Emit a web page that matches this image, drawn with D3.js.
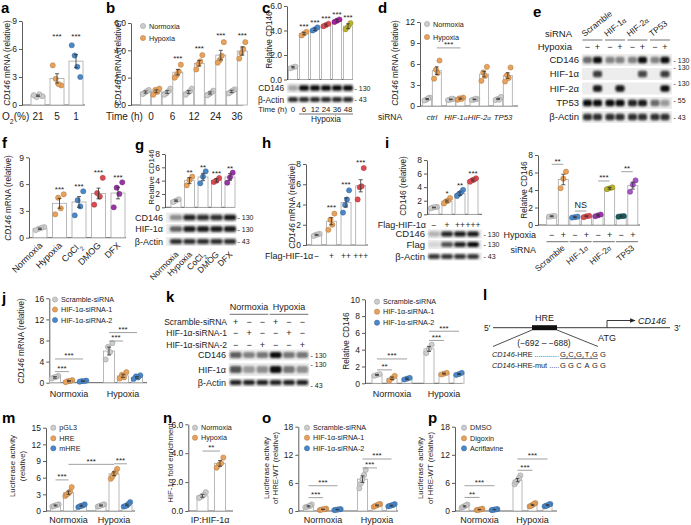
<!DOCTYPE html>
<html><head><meta charset="utf-8">
<script src="https://cdn.jsdelivr.net/npm/d3@7"></script>
<style>body{margin:0;background:#fff}</style>
</head><body>
<svg id="fig" width="691" height="525"></svg>
<script>
// ================= DATA =================
// a
const aCats = ["21","5","1"];
const aMean = [1.0,2.85,4.7];
const aSem  = [0.07,0.5,0.7];
const aPts  = [[0.85,1.05,0.95,1.15],[2.8,4.25,2.1,2.25],[5.3,6.4,3.0,4.1]];
const aSig  = ["","***","***"];
// b
const bTimes = ["0","6","12","24","36"];
const bConds = ["Normoxia","Hypoxia"];
const bMean = [[0.95,1.0],[0.95,2.4],[0.95,3.05],[0.88,3.65],[1.0,3.95]];
const bSem  = [[0.08,0.1],[0.1,0.2],[0.1,0.2],[0.08,0.35],[0.08,0.3]];
const bPts  = [[[0.9,0.8,1.1,1.0],[1.1,0.75,1.2,0.95]],
               [[0.85,0.75,1.2,1.0],[2.2,2.0,2.95,2.45]],
               [[0.9,0.75,1.2,1.0],[3.0,2.6,3.65,3.2]],
               [[0.8,0.7,1.05,0.9],[3.3,3.1,4.6,3.6]],
               [[0.95,0.85,1.15,1.05],[3.8,3.4,4.6,4.1]]];
const bSig  = ["","***","***","***","***"];
// c
const cTimes = ["0","6","12","24","36","48"];
const cMean = [1.0,3.75,4.1,4.45,4.8,4.35];
const cSem  = [0.05,0.1,0.1,0.08,0.1,0.2];
const cPts  = [[1.0,0.92,1.05],[3.75,3.6,3.9],[4.1,4.0,4.25],[4.45,4.35,4.55],[4.8,4.7,4.9],[4.3,4.1,4.6]];
const cSig  = ["","***","***","***","***","***"];
const cBlotRows = ["CD146","β-Actin"];
const cBlotKDa  = ["130","43"];
const cBands = [[0.3,1,1,1,1,1],[0.9,0.9,0.9,0.9,0.9,0.9]];
// d
const dCats = ["ctrl","HIF-1α","HIF-2α","TP53"];
const dMean = [[1.0,5.05],[0.95,1.05],[0.95,4.55],[1.0,4.35]];
const dSem  = [[0.08,0.55],[0.05,0.08],[0.05,0.4],[0.08,0.4]];
const dPts  = [[[0.9,0.8,1.2,1.1],[5.2,3.9,6.5,4.7]],
               [[0.9,0.85,1.0,1.05],[1.1,0.9,1.2,1.0]],
               [[0.9,0.85,1.0,1.05],[4.8,3.6,5.6,4.3]],
               [[1.0,0.85,1.3,0.9],[4.4,3.5,5.5,4.0]]];
// e
const eSi    = ["Scramble","HIF-1α","HIF-2α","TP53"];
const eHyp   = ["−","+","−","+","−","+","−","+"];
const eRows  = ["CD146","HIF-1α","HIF-2α","TP53","β-Actin"];
const eKDa   = ["130","130","130","55","43"];
const eBands = [[0.55,1,0.45,0.45,0.45,1,0.45,1],
                [0,0.8,0,0,0,0.75,0,0.8],
                [0,0.95,0,0.95,0,0,0,1],
                [1,1,1,1,0.9,0.95,0.55,0.35],
                [0.85,0.85,0.85,0.85,0.85,0.85,0.85,0.85]];
// f
const fCats = ["Normoxia","Hypoxia","CoCl2","DMOG","DFX"];
const fMean = [1.0,3.85,4.0,4.95,5.0];
const fSem  = [0.08,0.55,0.6,0.6,0.65];
const fPts  = [[1.0,0.85,1.2,1.1],[4.48,2.62,4.86,3.29],[4.2,2.5,5.2,3.5],[5.0,3.7,6.7,4.6],[5.6,3.4,6.2,4.9]];
const fSig  = ["","***","***","***","***"];
// g
const gCats = ["Normoxia","Hypoxia","CoCl2","DMOG","DFX"];
const gMean = [1.0,4.0,4.55,4.05,4.55];
const gSem  = [0.1,0.45,0.55,0.25,0.5];
const gPts  = [[1.0,0.8,1.2],[4.1,3.3,4.6],[4.6,3.6,5.4],[4.0,3.8,4.4],[4.5,3.7,5.2]];
const gSig  = ["","**","**","***","**"];
const gBlotRows = ["CD146","HIF-1α","β-Actin"];
const gBlotKDa  = ["130","130","43"];
const gBands = [[0.4,0.9,0.85,0.85,0.95],[0.6,0.95,0.95,0.95,0.95],[0.85,0.85,0.85,0.85,0.85]];
// h
const hCats = ["−","+","++","+++"];
const hMean = [1.0,2.35,4.2,5.85];
const hSem  = [0.05,0.35,0.45,0.6];
const hPts  = [[1.0,0.9,1.1,1.05],[2.5,1.5,3.1,2.0],[3.95,3.2,5.4,4.5],[5.7,4.5,7.6,5.8]];
const hSig  = ["","***","***","***"];
// i (left)
const iCats = ["−","+","++","+++"];
const iMean = [1.0,1.95,3.05,5.05];
const iSem  = [0.05,0.15,0.25,0.15];
const iPts  = [[1.0,0.9,1.1,1.05],[1.9,1.6,2.4,2.0],[3.0,2.7,3.6,3.2],[5.0,4.8,5.3,5.1]];
const iSig  = ["","*","**","***"];
const iBlotRows = ["CD146","Flag","β-Actin"];
const iBlotKDa  = ["130","130","43"];
const iBands = [[0.25,0.9,0.95,0.95],[0.1,0.7,0.9,1.0],[0.85,0.85,0.85,0.85]];
// i (right)
const iSi   = ["Scramble","HIF-1α","HIF-2α","TP53"];
const iHyp  = ["−","+"];
const iRMean = [[1.0,5.2],[0.9,1.0],[1.1,4.2],[1.0,4.5]];
const iRSem  = [[0.05,0.6],[0.05,0.05],[0.08,0.1],[0.03,0.4]];
const iRPts  = [[[1.0,0.95,1.05],[5.3,4.2,6.1]],[[0.9,0.85,0.95],[1.0,0.9,1.05]],
                [[1.1,1.0,1.2],[4.2,4.1,4.3]],[[1.0,0.95,1.02],[4.6,3.8,5.1]]];
const iRSig  = ["**","NS","***","**"];
// j
const jGroups = ["Normoxia","Hypoxia"];
const jSeries = ["Scramble-siRNA","HIF-1α-siRNA-1","HIF-1α-siRNA-2"];
const jMean = [[1.0,0.3,0.3],[6.0,1.3,1.0]];
const jSem  = [[0.15,0.1,0.05],[0.75,0.3,0.15]];
const jPts  = [[[1.0,0.8,1.3,1.1],[0.3,0.1,0.5,0.3],[0.3,0.2,0.4,0.3]],
               [[6.8,4.4,7.5,5.8],[1.5,0.8,2.0,1.0],[1.2,0.7,1.4,1.0]]];
// k
const kLaneCond = ["Normoxia","Normoxia","Normoxia","Hypoxia","Hypoxia","Hypoxia"];
const kSiRows = ["Scramble-siRNA","HIF-1α-siRNA-1","HIF-1α-siRNA-2"];
const kSigns  = [["+","−","−","+","−","−"],["−","+","−","−","+","−"],["−","−","+","−","−","+"]];
const kBlotRows = ["CD146","HIF-1α","β-Actin"];
const kBlotKDa  = ["130","130","43"];
const kBands = [[0.65,0.45,0.5,1.0,0.5,0.5],[0.7,0.35,0.4,1.0,0.5,0.4],[0.9,0.9,0.9,0.9,0.9,0.9]];
const kMean = [[1.0,0.6,0.55],[4.1,1.15,1.1]];
const kSem  = [[0.05,0.15,0.08],[0.3,0.05,0.05]];
const kPts  = [[[1.0,0.9,1.1],[0.6,0.3,0.9],[0.55,0.45,0.65]],[[4.1,3.6,4.6],[1.15,1.05,1.25],[1.1,1.0,1.25]]];
// l
const lSeqWT  = ["G","C","G","T","G","G"];
const lSeqMut = ["G","G","C","A","G","G"];
const lRange  = "(−692 – −688)";
// m
const mGroups = ["Normoxia","Hypoxia"];
const mSeries = ["pGL3","HRE","mHRE"];
const mMean = [[1.0,3.3,0.95],[1.0,6.7,1.1]];
const mSem  = [[0.1,0.3,0.1],[0.1,0.35,0.15]];
const mPts  = [[[1.0,0.8,1.2,0.9,1.1],[3.2,2.7,4.3,3.0,3.5],[0.95,0.7,1.2,0.85,1.0]],
               [[1.0,0.8,1.2,0.9,1.1],[6.7,5.8,7.6,6.2,7.0],[1.0,0.8,1.6,0.9,1.3]]];
// n
const nCats = ["Normoxia","Hypoxia"];
const nMean = [1.05,3.3];
const nSem  = [0.1,0.2];
const nPts  = [[1.0,0.9,1.3,1.1],[3.2,3.0,3.7,3.3]];
// o
const oGroups = ["Normoxia","Hypoxia"];
const oSeries = ["Scramble-siRNA","HIF-1α-siRNA-1","HIF-1α-siRNA-2"];
const oMean = [[1.0,0.35,0.3],[6.8,1.2,1.15]];
const oSem  = [[0.12,0.05,0.04],[0.7,0.1,0.1]];
const oPts  = [[[1.0,0.8,1.4,0.9,1.1],[0.35,0.2,0.5,0.3,0.4],[0.3,0.2,0.4,0.25,0.35]],
               [[6.8,4.85,8.76,5.9,7.7],[1.2,0.9,1.5,1.1,1.4],[1.2,1.0,1.5,1.1,1.3]]];
// p
const pGroups = ["Normoxia","Hypoxia"];
const pSeries = ["DMSO","Digoxin","Acriflavine"];
const pMean = [[1.0,0.3,0.3],[6.6,1.3,1.25]];
const pSem  = [[0.12,0.05,0.04],[0.35,0.12,0.1]];
const pPts  = [[[1.0,0.7,1.4,0.9,1.2],[0.3,0.2,0.5,0.25,0.35],[0.3,0.2,0.4,0.25,0.35]],
               [[6.5,5.7,7.6,6.2,7.0],[1.3,1.0,1.7,1.1,1.5],[1.2,1.0,1.5,1.1,1.4]]];

// ================= STYLE =================
const FONT = '"Liberation Sans", Arial, Helvetica, sans-serif';
const C = {gray:'#cdcdcd', orange:'#e9a25b', blue:'#4b88c9', red:'#dc4b50', magenta:'#a3239f',
           olive:'#bab42d', purple:'#9a35a8', teal:'#1d5c5e', lilac:'#a655c6'};
const TXT = '#222';
const PR = 2.6;

// ================= HELPERS =================
const svg = d3.select('#fig').attr('font-family', FONT);
const defs = svg.append('defs');
defs.append('filter').attr('id','blur').attr('x','-40%').attr('y','-100%').attr('width','180%').attr('height','300%')
  .append('feGaussianBlur').attr('stdDeviation',0.9);
defs.append('marker').attr('id','arrow').attr('viewBox','0 0 10 10').attr('refX',9).attr('refY',5)
  .attr('markerWidth',6).attr('markerHeight',6).attr('orient','auto')
  .append('path').attr('d','M0,1 L10,5 L0,9 Z').attr('fill','#222');

function T(g,x,y,s,o={}){
  const t=g.append('text').attr('x',x).attr('y',y).attr('font-size',o.fs||9)
    .attr('text-anchor',o.anchor||'start').attr('fill',o.fill||TXT);
  if(o.bold) t.attr('font-weight','bold');
  if(o.italic) t.attr('font-style','italic');
  if(o.rot!=null) t.attr('transform',`rotate(${o.rot},${x},${y})`);
  t.text(s); return t;
}
function R(g,x,y,parts,o={}){
  const fs=o.fs||9;
  const t=g.append('text').attr('x',x).attr('y',y).attr('font-size',fs)
    .attr('text-anchor',o.anchor||'start').attr('fill',TXT);
  if(o.italic) t.attr('font-style','italic');
  if(o.rot!=null) t.attr('transform',`rotate(${o.rot},${x},${y})`);
  parts.forEach(p=>{
    const [s,st]=Array.isArray(p)?p:[p,''];
    const ts=t.append('tspan').text(s);
    if(st.includes('i')) ts.attr('font-style','italic');
    if(st.includes('sub')) ts.attr('baseline-shift','sub').attr('font-size',fs*0.7);
    if(st.includes('sm')) ts.attr('font-size',fs*0.8);
  });
  return t;
}
function sub2(s){ return s.endsWith('2') && s.startsWith('CoCl') ? ['CoCl',['2','sub']] : [s]; }
function smallAlpha(s){ return s.endsWith('α') ? [s.slice(0,-1),['α','sm']] : [s]; }
function letter(s,x,y){ T(svg,x,y,s,{fs:15,bold:true,fill:'#000'}); }
function yAxis(g,y,ticks,x0,x1,fs=8.5){
  const ax=g.append('g').attr('transform',`translate(${x0},0)`)
    .call(d3.axisLeft(y).tickValues(ticks).tickSize(3).tickSizeOuter(0).tickPadding(2));
  ax.attr('font-family',FONT);
  ax.selectAll('text').attr('font-size',fs).attr('fill',TXT);
  ax.selectAll('line,path').attr('stroke','#333').attr('stroke-width',0.8);
  g.append('line').attr('x1',x0).attr('x2',x1).attr('y1',y(0)).attr('y2',y(0))
    .attr('stroke','#333').attr('stroke-width',0.8);
}
function yTitle(g,x,cy,parts,fs=8.2){ R(g,x,cy,parts,{fs,anchor:'middle',rot:-90}); }
const JIT={1:[0],2:[-0.5,0.5],3:[0,-0.85,0.85],4:[-0.3,-0.95,0.95,0.3],5:[0,-1,1,-0.5,0.5]};
function drawBars(g,y,items,bw){
  items.forEach(d=>{
    g.append('rect').attr('x',d.x-bw/2).attr('y',y(d.mean)).attr('width',bw).attr('height',y(0)-y(d.mean))
      .attr('fill','#fff').attr('stroke','#a8a8a8').attr('stroke-width',0.8);
  });
  items.forEach(d=>{
    const n=d.pts.length, sp=bw*0.32;
    d.pts.forEach((v,i)=>{
      g.append('circle').attr('cx',d.x+JIT[n][i]*sp).attr('cy',y(v)).attr('r',PR)
        .attr('fill',d.color).attr('stroke',d3.color(d.color).darker(0.9)).attr('stroke-width',0.5);
    });
  });
  items.forEach(d=>{
    if(!d.sem) return;
    const cw=Math.min(4,bw*0.4);
    const l=(x1,x2,y1,y2)=>g.append('line').attr('x1',x1).attr('x2',x2).attr('y1',y1).attr('y2',y2)
      .attr('stroke','#333').attr('stroke-width',0.8);
    l(d.x,d.x,y(d.mean-d.sem),y(d.mean+d.sem));
    l(d.x-cw/2,d.x+cw/2,y(d.mean+d.sem),y(d.mean+d.sem));
    l(d.x-cw/2,d.x+cw/2,y(d.mean-d.sem),y(d.mean-d.sem));
  });
}
function stars(g,x,cy,s,fs=8){
  g.append('text').attr('x',x).attr('y',cy+fs*0.6).attr('font-size',fs).attr('text-anchor','middle')
    .attr('fill',TXT).text(s);
}
function topOf(d){ return Math.max(d.mean+(d.sem||0), ...d.pts); }
function bracket(g,x1,x2,ly,s){
  g.append('line').attr('x1',x1).attr('x2',x2).attr('y1',ly).attr('y2',ly).attr('stroke','#777').attr('stroke-width',0.7);
  if(s==='NS') T(g,(x1+x2)/2,ly-3,s,{fs:9,anchor:'middle'});
  else stars(g,(x1+x2)/2,ly-5.5,s);
}
function legend(g,x,ys,labels,colors,fs=7.2){
  labels.forEach((s,i)=>{
    g.append('circle').attr('cx',x).attr('cy',ys[i]).attr('r',PR).attr('fill',colors[i])
      .attr('stroke',d3.color(colors[i]).darker(0.9)).attr('stroke-width',0.5);
    T(g,x+6,ys[i]+2.6,s,{fs});
  });
}
function blot(g,xs,lw,x0,x1,rows,fs=9){
  rows.forEach(r=>{
    g.append('rect').attr('x',x0).attr('y',r.cy-r.h/2).attr('width',x1-x0).attr('height',r.h).attr('fill','#ededed');
    r.vals.forEach((v,i)=>{
      if(v<=0) return;
      g.append('rect').attr('x',xs[i]-lw*0.45).attr('y',r.cy-r.h*0.27).attr('width',lw*0.9).attr('height',r.h*0.54)
        .attr('rx',2).attr('fill','#0a0a0a').attr('fill-opacity',v).attr('filter','url(#blur)');
    });
    T(g,x0-3,r.cy+3.2,r.label,{fs,anchor:'end'});
    if(r.kda) T(g,x1+1.5,r.cy+2.6+(r.kdy||0),'- '+r.kda,{fs:7});
  });
}

// ================= PANEL a =================
{
  const g=svg.append('g');
  const y=d3.scaleLinear().domain([0,9]).range([105,21]);
  const x=d3.scalePoint().domain(aCats).range([38,76]);
  const col=[C.gray,C.orange,C.blue];
  yAxis(g,y,[0,3,6,9],22,85);
  drawBars(g,y,aCats.map((c,i)=>({x:x(c),mean:aMean[i],sem:aSem[i],pts:aPts[i],color:col[i]})),14);
  aCats.forEach(c=>T(g,x(c),119.5,c,{fs:10,anchor:'middle'}));
  R(g,2,119.5,['O',['2','sub'],'(%)'],{fs:10});
  aSig.forEach((s,i)=>{ if(s) stars(g,x(aCats[i]),y(7.6),s); });
  yTitle(g,10,63,[['CD146','i'],' mRNA (relative)']);
  letter('a',1,13);
}
// ================= PANEL b =================
{
  const g=svg.append('g');
  const y=d3.scaleLinear().domain([0,6]).range([105,23]);
  const x=d3.scalePoint().domain(bTimes).range([151,237]);
  const o=d3.scalePoint().domain(bConds).range([-5.3,5.3]);
  const col=[C.gray,C.orange];
  yAxis(g,y,[0,2,4,6],131,243);
  const items=[];
  bTimes.forEach((t,i)=>bConds.forEach((c,j)=>items.push({x:x(t)+o(c),mean:bMean[i][j],sem:bSem[i][j],pts:bPts[i][j],color:col[j]})));
  drawBars(g,y,items,10);
  bTimes.forEach((t,i)=>{ T(g,x(t),119.5,t,{fs:10,anchor:'middle'});
    if(bSig[i]) stars(g,x(t)+o('Hypoxia'),y(topOf(items[i*2+1]))-8.5,bSig[i]); });
  T(g,106,119.5,'Time (h)',{fs:10});
  legend(g,143,[26,38],bConds,col);
  yTitle(g,121,63,[['CD146','i'],' mRNA (relative)']);
  letter('b',106,13);
}
// ================= PANEL c =================
{
  const g=svg.append('g');
  const y=d3.scaleLinear().domain([0,6]).range([79.5,6]);
  const x=d3.scalePoint().domain(cTimes).range([293,348]);
  const col=[C.gray,C.orange,C.blue,C.red,C.magenta,C.olive];
  yAxis(g,y,[0,2,4,6],287,353);
  const items=cTimes.map((t,i)=>({x:x(t),mean:cMean[i],sem:cSem[i],pts:cPts[i],color:col[i]}));
  drawBars(g,y,items,9);
  items.forEach((d,i)=>{ if(cSig[i]) stars(g,d.x,y(topOf(d))-7.5,cSig[i]); });
  yTitle(g,272,40,['Relative CD146']);
  blot(g,cTimes.map(t=>x(t)),11,287,353,cBlotRows.map((r,i)=>({label:r,cy:[88,99.5][i],h:[10,8][i],vals:cBands[i],kda:cBlotKDa[i]})),8.3);
  T(g,287,111.5,'Time (h)',{fs:7.8,anchor:'end'});
  cTimes.forEach(t=>T(g,x(t),111.5,t,{fs:7.8,anchor:'middle'}));
  g.append('line').attr('x1',x('6')-5).attr('x2',x('48')+5).attr('y1',114).attr('y2',114).attr('stroke','#333').attr('stroke-width',0.7);
  T(g,(x('6')+x('48'))/2,122,'Hypoxia',{fs:8.3,anchor:'middle'});
  letter('c',262,13);
}
// ================= PANEL d =================
{
  const g=svg.append('g');
  const y=d3.scaleLinear().domain([0,12]).range([106,22]);
  const x=d3.scalePoint().domain(dCats).range([432,503]);
  const o=d3.scalePoint().domain(bConds).range([-4.8,4.8]);
  const col=[C.gray,C.orange];
  yAxis(g,y,[0,3,6,9,12],420,518);
  const items=[];
  dCats.forEach((t,i)=>bConds.forEach((c,j)=>items.push({x:x(t)+o(c),mean:dMean[i][j],sem:dSem[i][j],pts:dPts[i][j],color:col[j]})));
  drawBars(g,y,items,9);
  dCats.forEach(t=>R(g,x(t),119.5,smallAlpha(t),{fs:7.8,anchor:'middle',italic:true}));
  T(g,378,119.5,'siRNA',{fs:8.5});
  legend(g,427,[24,37],bConds,col);
  bracket(g,x('ctrl')+o('Hypoxia'),x('HIF-1α')+o('Hypoxia'),y(8.3),'***');
  yTitle(g,398,63,[['CD146','i'],' mRNA (relative)']);
  letter('d',378,13);
}
// ================= PANEL e =================
{
  const g=svg.append('g');
  const gx=d3.scalePoint().domain(eSi).range([592.5,660]);
  const lanes=[]; eSi.forEach(s=>{ lanes.push(gx(s)-5); lanes.push(gx(s)+5); });
  const rowsY=[60,74,88.5,103,117];
  blot(g,lanes,10,582,672,eRows.map((r,i)=>({label:r,cy:rowsY[i],h:12,vals:eBands[i],kda:eKDa[i],kdy:[0,-7,-5,-3,0][i]})),9.5);
  eHyp.forEach((h,i)=>T(g,lanes[i],49.5,h,{fs:9,anchor:'middle'}));
  T(g,572,49.5,'Hypoxia',{fs:9.5,anchor:'end'});
  T(g,572,37,'siRNA',{fs:9.5,anchor:'end'});
  eSi.forEach(s=>{
    g.append('line').attr('x1',gx(s)-10).attr('x2',gx(s)+10).attr('y1',40).attr('y2',40).attr('stroke','#333').attr('stroke-width',0.7);
    R(g,gx(s)-8,37,smallAlpha(s),{fs:8.5,rot:-38});
  });
  letter('e',533,17);
}
// ================= PANEL f =================
{
  const g=svg.append('g');
  const y=d3.scaleLinear().domain([0,9]).range([237.7,157.3]);
  const x=d3.scalePoint().domain(fCats).range([40,118]);
  const col=[C.gray,C.orange,C.blue,C.red,C.purple];
  yAxis(g,y,[0,3,6,9],29,126);
  const items=fCats.map((t,i)=>({x:x(t),mean:fMean[i],sem:fSem[i],pts:fPts[i],color:col[i]}));
  drawBars(g,y,items,14);
  items.forEach((d,i)=>{ if(fSig[i]) stars(g,d.x,y(topOf(d))-7.5,fSig[i]); });
  fCats.forEach(t=>R(g,x(t)+3,246,sub2(t),{fs:9,anchor:'end',rot:-45}));
  yTitle(g,11,198,[['CD146','i'],' mRNA (relative)']);
  letter('f',2,148);
}
// ================= PANEL g =================
{
  const g=svg.append('g');
  const y=d3.scaleLinear().domain([0,8]).range([207.3,154]);
  const x=d3.scalePoint().domain(gCats).range([176,230]);
  const col=[C.gray,C.orange,C.blue,C.red,C.purple];
  yAxis(g,y,[0,2,4,6,8],165,235);
  const items=gCats.map((t,i)=>({x:x(t),mean:gMean[i],sem:gSem[i],pts:gPts[i],color:col[i]}));
  drawBars(g,y,items,10);
  items.forEach((d,i)=>{ if(gSig[i]) stars(g,d.x,y(topOf(d))-6.5,gSig[i]); });
  blot(g,gCats.map(t=>x(t)),13.5,166,236,gBlotRows.map((r,i)=>({label:r,cy:[217.5,229,241.5][i],h:[10,10,9][i],vals:gBands[i],kda:gBlotKDa[i]})),9);
  gCats.forEach(t=>R(g,x(t)+3,255,sub2(t),{fs:8.5,anchor:'end',rot:-45}));
  yTitle(g,154,177,['Relative CD146'],7.9);
  letter('g',135,150);
}
// ================= PANEL h =================
{
  const g=svg.append('g');
  const y=d3.scaleLinear().domain([0,8]).range([245,164]);
  const x=d3.scalePoint().domain(hCats).range([316.7,360.7]);
  const col=[C.gray,C.orange,C.blue,C.red];
  yAxis(g,y,[0,2,4,6,8],306,368);
  const items=hCats.map((t,i)=>({x:x(t),mean:hMean[i],sem:hSem[i],pts:hPts[i],color:col[i]}));
  drawBars(g,y,items,10);
  items.forEach((d,i)=>{ if(hSig[i]) stars(g,d.x,y(topOf(d))-8,hSig[i]); });
  hCats.forEach(t=>T(g,x(t),258.5,t,{fs:8.5,anchor:'middle'}));
  T(g,265,258.5,'Flag-HIF-1α',{fs:9});
  yTitle(g,295,206,[['CD146','i'],' mRNA (relative)']);
  letter('h',262,148);
}
// ================= PANEL i (left) =================
{
  const g=svg.append('g');
  const y=d3.scaleLinear().domain([0,8]).range([214.3,160]);
  const x=d3.scalePoint().domain(iCats).range([434,473]);
  const col=[C.gray,C.orange,C.blue,C.red];
  yAxis(g,y,[0,2,4,6,8],427,482);
  const items=iCats.map((t,i)=>({x:x(t),mean:iMean[i],sem:iSem[i],pts:iPts[i],color:col[i]}));
  drawBars(g,y,items,10);
  items.forEach((d,i)=>{ if(iSig[i]) stars(g,d.x,y(topOf(d))-7,iSig[i]); });
  iCats.forEach(t=>T(g,x(t),227.5,t,{fs:8.5,anchor:'middle'}));
  T(g,426,227.5,'Flag-HIF-1α',{fs:9,anchor:'end'});
  blot(g,iCats.map(t=>x(t)),13,428,482,iBlotRows.map((r,i)=>({label:r,cy:[234,244.5,256.5][i],h:[9,9,8][i],vals:iBands[i],kda:iBlotKDa[i]})),9.5);
  yTitle(g,406,186,['CD146 (relative)']);
  letter('i',385,148);
}
// ================= PANEL i (right) =================
{
  const g=svg.append('g');
  const y=d3.scaleLinear().domain([0,8]).range([225,155]);
  const gx=d3.scalePoint().domain(iSi).range([557.5,627]);
  const o=d3.scalePoint().domain(iHyp).range([-5.8,5.8]);
  const col=[[C.gray,C.orange],[C.blue,C.red],[C.purple,C.olive],[C.teal,C.lilac]];
  yAxis(g,y,[0,2,4,6,8],538,640);
  const items=[];
  iSi.forEach((s,i)=>iHyp.forEach((h,j)=>items.push({x:gx(s)+o(h),mean:iRMean[i][j],sem:iRSem[i][j],pts:iRPts[i][j],color:col[i][j]})));
  drawBars(g,y,items,10);
  const lvl=[6.94,1.6,5.03,6.09];
  iSi.forEach((s,i)=>{
    iHyp.forEach(h=>T(g,gx(s)+o(h),237.5,h,{fs:9,anchor:'middle'}));
    g.append('line').attr('x1',gx(s)-11).attr('x2',gx(s)+11).attr('y1',241.7).attr('y2',241.7).attr('stroke','#333').attr('stroke-width',0.7);
    R(g,gx(s)+8,249,smallAlpha(s),{fs:8.5,anchor:'end',rot:-40});
    bracket(g,gx(s)+o('−'),gx(s)+o('+'),y(lvl[i]),iRSig[i]);
  });
  T(g,536,237.5,'Hypoxia',{fs:9,anchor:'end'});
  T(g,536,253,'siRNA',{fs:9,anchor:'end'});
  yTitle(g,527,190,['Relative CD146']);
}
// ================= PANEL j =================
{
  const g=svg.append('g');
  const y=d3.scaleLinear().domain([0,16]).range([382.7,298.3]);
  const gx=d3.scalePoint().domain(jGroups).range([69,123]);
  const o=d3.scalePoint().domain(jSeries).range([-14,14]);
  const col=[C.gray,C.orange,C.blue];
  yAxis(g,y,[0,4,8,12,16],49.3,147);
  const items=[];
  jGroups.forEach((gr,i)=>jSeries.forEach((s,j)=>items.push({x:gx(gr)+o(s),mean:jMean[i][j],sem:jSem[i][j],pts:jPts[i][j],color:col[j]})));
  drawBars(g,y,items,11);
  jGroups.forEach(gr=>T(g,gx(gr),397,gr,{fs:9,anchor:'middle'}));
  legend(g,55,[299.5,309.5,320],jSeries,col);
  const s0=jSeries[0];
  bracket(g,gx('Normoxia')+o(s0),gx('Normoxia')+o(jSeries[1]),y(2.1),'***');
  bracket(g,gx('Normoxia')+o(s0),gx('Normoxia')+o(jSeries[2]),y(4.5),'***');
  bracket(g,gx('Hypoxia')+o(s0),gx('Hypoxia')+o(jSeries[1]),y(7.9),'***');
  bracket(g,gx('Hypoxia')+o(s0),gx('Hypoxia')+o(jSeries[2]),y(9.5),'***');
  yTitle(g,23.5,341,[['CD146','i'],' mRNA (relative)']);
  letter('j',2,303);
}
// ================= PANEL k =================
{
  const g=svg.append('g');
  const lx=d3.scalePoint().domain(d3.range(6)).range([235.7,302.3]);
  const lanes=d3.range(6).map(i=>lx(i));
  ["Normoxia","Hypoxia"].forEach(cnd=>{
    const idx=kLaneCond.map((c,i)=>c===cnd?i:-1).filter(i=>i>=0);
    const a=lanes[idx[0]]-6, b=lanes[idx[idx.length-1]]+6;
    T(g,(a+b)/2,310,cnd,{fs:9,anchor:'middle'});
    g.append('line').attr('x1',a).attr('x2',b).attr('y1',314.3).attr('y2',314.3).attr('stroke','#333').attr('stroke-width',0.7);
  });
  kSiRows.forEach((r,i)=>{
    const yy=[324.5,336,347.5][i];
    T(g,227,yy,r,{fs:8.5,anchor:'end'});
    kSigns[i].forEach((s,j)=>T(g,lanes[j],yy,s,{fs:9,anchor:'middle'}));
  });
  blot(g,lanes,13,229,309,kBlotRows.map((r,i)=>({label:r,cy:[355,369.5,382.5][i],h:[11,13,9][i],vals:kBands[i],kda:kBlotKDa[i],kdy:[0,-5.5,3][i]})),9);
  letter('k',166,302);
}
// ================= PANEL k (right) =================
{
  const g=svg.append('g');
  const y=d3.scaleLinear().domain([0,10]).range([383.3,299.3]);
  const gx=d3.scalePoint().domain(jGroups).range([392,444]);
  const o=d3.scalePoint().domain(jSeries).range([-15,15]);
  const col=[C.gray,C.orange,C.blue];
  yAxis(g,y,[0,2,4,6,8,10],365,462);
  const items=[];
  jGroups.forEach((gr,i)=>jSeries.forEach((s,j)=>items.push({x:gx(gr)+o(s),mean:kMean[i][j],sem:kSem[i][j],pts:kPts[i][j],color:col[j]})));
  drawBars(g,y,items,10);
  jGroups.forEach(gr=>T(g,gx(gr),397,gr,{fs:9,anchor:'middle'}));
  legend(g,377,[301.7,311.7,322.7],jSeries,col);
  const s0=jSeries[0];
  bracket(g,gx('Normoxia')+o(s0),gx('Normoxia')+o(jSeries[1]),y(1.6),'**');
  bracket(g,gx('Normoxia')+o(s0),gx('Normoxia')+o(jSeries[2]),y(2.9),'***');
  bracket(g,gx('Hypoxia')+o(s0),gx('Hypoxia')+o(jSeries[1]),y(5.1),'***');
  bracket(g,gx('Hypoxia')+o(s0),gx('Hypoxia')+o(jSeries[2]),y(6.2),'***');
  yTitle(g,348.5,341,['Relative CD146']);
}
// ================= PANEL l =================
{
  const g=svg.append('g');
  const ln=(x1,y1,x2,y2,w=0.9)=>g.append('line').attr('x1',x1).attr('y1',y1).attr('x2',x2).attr('y2',y2).attr('stroke','#222').attr('stroke-width',w);
  ln(493,327.7,670,327.7);
  g.append('rect').attr('x',532).attr('y',325.2).attr('width',25).attr('height',5).attr('fill','#111');
  T(g,544.5,321,'HRE',{fs:9,anchor:'middle'});
  T(g,484,331,'5′',{fs:8.5});
  T(g,674,331,'3′',{fs:8.5});
  ln(532,330,493,346.5,0.8); ln(557,330,598,346.5,0.8);
  T(g,544,346,lRange,{fs:8.5,anchor:'middle'});
  g.append('path').attr('d','M607,327.7 V320.5 H635').attr('fill','none').attr('stroke','#222').attr('stroke-width',0.9).attr('marker-end','url(#arrow)');
  T(g,638,324,'CD146',{fs:9,italic:true});
  T(g,607,341,'ATG',{fs:9,anchor:'middle'});
  const sx=d3.scalePoint().domain(d3.range(6)).range([563,603]);
  R(g,492,357,[['CD146','i'],'-HRE ............'],{fs:7.3});
  R(g,492,367.5,[['CD146','i'],'-HRE-mut .....'],{fs:7.3});
  lSeqWT.forEach((s,i)=>T(g,sx(i),357,s,{fs:7.5,anchor:'middle'}));
  lSeqMut.forEach((s,i)=>T(g,sx(i),367.5,s,{fs:7.5,anchor:'middle'}));
  ln(sx(0)-3,358.6,sx(4)+3,358.6,0.6);
  d3.range(1,5).forEach(i=>ln((sx(i-1)+sx(i))/2,358.6,(sx(i-1)+sx(i))/2,356,0.6));
  letter('l',483,300);
}
// ================= PANEL m =================
{
  const g=svg.append('g');
  const y=d3.scaleLinear().domain([0,15]).range([511,427.7]);
  const gx=d3.scalePoint().domain(mGroups).range([68.5,114]);
  const o=d3.scalePoint().domain(mSeries).range([-13,13]);
  const col=[C.gray,C.orange,C.blue];
  yAxis(g,y,[0,3,6,9,12,15],46,135);
  const items=[];
  mGroups.forEach((gr,i)=>mSeries.forEach((s,j)=>items.push({x:gx(gr)+o(s),mean:mMean[i][j],sem:mSem[i][j],pts:mPts[i][j],color:col[j]})));
  drawBars(g,y,items,10);
  mGroups.forEach(gr=>T(g,gx(gr),522.5,gr,{fs:9,anchor:'middle'}));
  legend(g,53.3,[427.7,438.3,448.3],mSeries,col);
  bracket(g,gx('Normoxia')+o('pGL3'),gx('Normoxia')+o('HRE'),y(5.6),'***');
  bracket(g,gx('Normoxia')+o('HRE'),gx('Hypoxia')+o('HRE'),y(8.4),'***');
  bracket(g,gx('Hypoxia')+o('HRE'),gx('Hypoxia')+o('mHRE'),y(8.5),'***');
  yTitle(g,14.5,466,['Luciferase activity'],7.8);
  yTitle(g,24.5,466,['(relative)'],7.8);
  letter('m',2,423);
}
// ================= PANEL n =================
{
  const g=svg.append('g');
  const y=d3.scaleLinear().domain([0,6]).range([511,424.3]);
  const x=d3.scalePoint().domain(nCats).range([202.5,220]);
  const col=[C.gray,C.orange];
  yAxis(g,y,[0,2,4,6],188.3,233);
  drawBars(g,y,nCats.map((c,i)=>({x:x(c),mean:nMean[i],sem:nSem[i],pts:nPts[i],color:col[i]})),11);
  legend(g,195,[427.7,437.7],nCats,col);
  bracket(g,x('Normoxia'),x('Hypoxia'),y(4.15),'**');
  T(g,210,522.5,'IP:HIF-1α',{fs:9,anchor:'middle'});
  yTitle(g,173,463,['HIF-1α fold enrichment'],7.8);
  letter('n',163,423);
}
// ================= PANEL o =================
{
  const g=svg.append('g');
  const y=d3.scaleLinear().domain([0,18]).range([511,426.7]);
  const gx=d3.scalePoint().domain(oGroups).range([323,377]);
  const o=d3.scalePoint().domain(oSeries).range([-14.5,14.5]);
  const col=[C.gray,C.orange,C.blue];
  yAxis(g,y,[0,6,12,18],298.3,398);
  const items=[];
  oGroups.forEach((gr,i)=>oSeries.forEach((s,j)=>items.push({x:gx(gr)+o(s),mean:oMean[i][j],sem:oSem[i][j],pts:oPts[i][j],color:col[j]})));
  drawBars(g,y,items,10);
  oGroups.forEach(gr=>T(g,gx(gr),522.5,gr,{fs:9,anchor:'middle'}));
  legend(g,307,[427.7,437.7,448.3],oSeries,col);
  const s0=oSeries[0];
  bracket(g,gx('Normoxia')+o(s0),gx('Normoxia')+o(oSeries[1]),y(2.85),'***');
  bracket(g,gx('Normoxia')+o(s0),gx('Normoxia')+o(oSeries[2]),y(5.4),'***');
  bracket(g,gx('Hypoxia')+o(s0),gx('Hypoxia')+o(oSeries[1]),y(9.2),'***');
  bracket(g,gx('Hypoxia')+o(s0),gx('Hypoxia')+o(oSeries[2]),y(11.1),'***');
  yTitle(g,269,468,['Luciferase activity'],7.8);
  yTitle(g,278,468,['of HRE-WT (relative)'],7.8);
  letter('o',262,423);
}
// ================= PANEL p =================
{
  const g=svg.append('g');
  const y=d3.scaleLinear().domain([0,18]).range([511,426.7]);
  const gx=d3.scalePoint().domain(pGroups).range([479.5,532.5]);
  const o=d3.scalePoint().domain(pSeries).range([-15,15]);
  const col=[C.gray,C.orange,C.blue];
  yAxis(g,y,[0,6,12,18],455,557);
  const items=[];
  pGroups.forEach((gr,i)=>pSeries.forEach((s,j)=>items.push({x:gx(gr)+o(s),mean:pMean[i][j],sem:pSem[i][j],pts:pPts[i][j],color:col[j]})));
  drawBars(g,y,items,9);
  pGroups.forEach(gr=>T(g,gx(gr),522.5,gr,{fs:9,anchor:'middle'}));
  legend(g,464,[427.7,438.3,448.3],pSeries,col);
  const s0=pSeries[0];
  bracket(g,gx('Normoxia')+o(s0),gx('Normoxia')+o(pSeries[1]),y(2.9),'**');
  bracket(g,gx('Normoxia')+o(s0),gx('Normoxia')+o(pSeries[2]),y(5.4),'***');
  bracket(g,gx('Hypoxia')+o(s0),gx('Hypoxia')+o(pSeries[1]),y(8.7),'***');
  bracket(g,gx('Hypoxia')+o(s0),gx('Hypoxia')+o(pSeries[2]),y(11.1),'***');
  yTitle(g,423,468,['Luciferase activity'],7.8);
  yTitle(g,433,468,['of HRE-WT (relative)'],7.8);
  letter('p',428,423);
}
</script>
</body></html>
